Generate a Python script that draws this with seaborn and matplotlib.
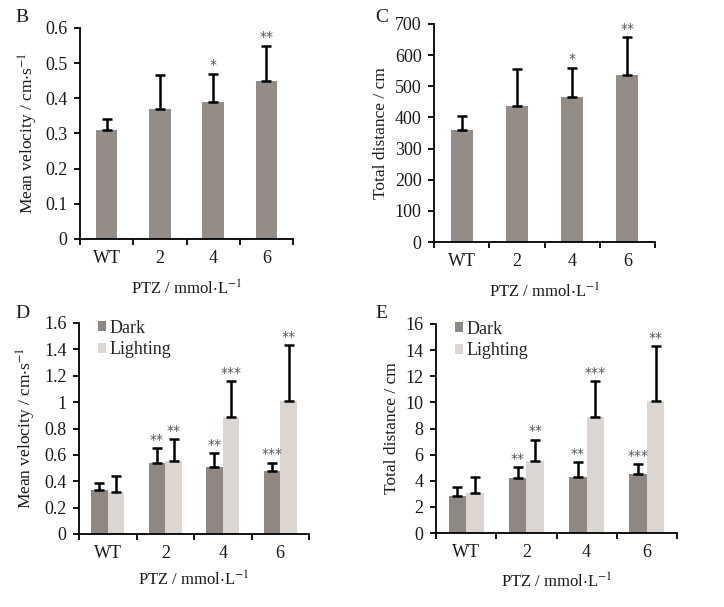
import numpy as np
import pandas as pd
import matplotlib
matplotlib.use("Agg")
import matplotlib.pyplot as plt
from matplotlib.ticker import FixedLocator, FuncFormatter, NullFormatter
import seaborn as sns

# ---------------- data ----------------
groups = ["WT", "2", "4", "6"]

# Panel B: mean velocity
vel_mean = [0.31, 0.37, 0.39, 0.45]
vel_err = [0.032, 0.095, 0.08, 0.10]
vel_sig = ["", "", "*", "**"]

# Panel C: total distance
dist_mean = [360, 437, 465, 537]
dist_err = [43, 118, 95, 121]
dist_sig = ["", "", "*", "**"]

# Panel D: mean velocity dark / lighting
conds = ["Dark", "Lighting"]
vel_dark = [0.33, 0.535, 0.505, 0.475]
vel_dark_err = [0.06, 0.115, 0.11, 0.065]
vel_dark_sig = ["", "**", "**", "***"]
vel_light = [0.32, 0.555, 0.89, 1.01]
vel_light_err = [0.12, 0.165, 0.27, 0.42]
vel_light_sig = ["", "**", "***", "**"]

# Panel E: total distance dark / lighting
dist_dark = [2.8, 4.2, 4.3, 4.55]
dist_dark_err = [0.7, 0.85, 1.15, 0.7]
dist_dark_sig = ["", "**", "**", "***"]
dist_light = [3.05, 5.5, 8.9, 10.1]
dist_light_err = [1.2, 1.65, 2.7, 4.2]
dist_light_sig = ["", "**", "***", "**"]

# ---------------- style ----------------
sns.set_style("white")
plt.rcParams["font.family"] = ["Liberation Serif", "DejaVu Serif"]
plt.rcParams["mathtext.fontset"] = "stix"

C_SINGLE = "#948c86"
C_DARK = "#8f8782"
C_LIGHT = "#dbd6d2"
TXT = "#1a1a1a"

fig = plt.figure(figsize=(7.24, 6.07), dpi=100)

def frac(l, r, t, b):
    W, H = 724, 607
    return [l / W, 1 - b / H, (r - l) / W, (b - t) / H]

axB = fig.add_axes(frac(80, 293, 28, 239))
axC = fig.add_axes(frac(434, 655, 24, 242))
axD = fig.add_axes(frac(79, 309, 323, 534))
axE = fig.add_axes(frac(436, 677, 324, 533))

def style_axes(ax, ylim, yticks, ylabel, xpad=9):
    ax.set_xlim(-0.5, 3.5)
    ax.set_ylim(*ylim)
    ax.set_yticks(yticks)
    ax.yaxis.set_major_formatter(FuncFormatter(lambda v, p: "%g" % v))
    for s in ["top", "right"]:
        ax.spines[s].set_visible(False)
    for s in ["left", "bottom"]:
        ax.spines[s].set_color("black")
        ax.spines[s].set_linewidth(1.3)
    ax.xaxis.set_minor_locator(FixedLocator([-0.5, 0.5, 1.5, 2.5, 3.5]))
    ax.xaxis.set_minor_formatter(NullFormatter())
    ax.tick_params(axis="x", which="major", length=0, pad=8, labelsize=13, labelcolor=TXT)
    ax.tick_params(axis="x", which="minor", length=4, width=1.3, direction="out", color="black", bottom=True)
    ax.tick_params(axis="y", which="major", length=4, width=1.3, direction="out", left=True,
                   labelsize=13, color="black", labelcolor=TXT, pad=5)
    ax.set_xlabel(r"PTZ / mmol$\cdot$L$^{-1}$", fontsize=12, labelpad=xpad, color=TXT)
    ax.set_ylabel(ylabel, fontsize=12.5, color=TXT, labelpad=4)

def add_err(ax, container, errs, sigs, offset):
    xs = [p.get_x() + p.get_width() / 2 for p in container.patches]
    hs = [p.get_height() for p in container.patches]
    ax.errorbar(xs, hs, yerr=[[0] * len(errs), errs], fmt="none", ecolor="black",
                elinewidth=1.8, capsize=3.5, capthick=1.8, zorder=3)
    for x, h, e, s in zip(xs, hs, errs, sigs):
        if s:
            ax.text(x, h + e + offset, s, ha="center", va="bottom", fontsize=10,
                    color="#555555", family="DejaVu Sans")

# Panel B
dfB = pd.DataFrame({"group": groups, "value": vel_mean})
sns.barplot(data=dfB, x="group", y="value", color=C_SINGLE, width=0.4, ax=axB,
            saturation=1, errorbar=None, linewidth=0)
add_err(axB, axB.containers[0], vel_err, vel_sig, 0.004)
style_axes(axB, (0, 0.6), np.arange(0, 0.61, 0.1), r"Mean velocity / cm$\cdot$s$^{-1}$")

# Panel C
dfC = pd.DataFrame({"group": groups, "value": dist_mean})
sns.barplot(data=dfC, x="group", y="value", color=C_SINGLE, width=0.4, ax=axC,
            saturation=1, errorbar=None, linewidth=0)
add_err(axC, axC.containers[0], dist_err, dist_sig, 5)
style_axes(axC, (0, 700), np.arange(0, 701, 100), "Total distance / cm")

# Panel D
dfD = pd.DataFrame({
    "group": groups * 2,
    "cond": [conds[0]] * 4 + [conds[1]] * 4,
    "value": vel_dark + vel_light,
})
sns.barplot(data=dfD, x="group", y="value", hue="cond", palette=[C_DARK, C_LIGHT],
            width=0.58, ax=axD, saturation=1, errorbar=None, gap=0, linewidth=0)
add_err(axD, axD.containers[0], vel_dark_err, vel_dark_sig, 0.01)
add_err(axD, axD.containers[1], vel_light_err, vel_light_sig, 0.01)
style_axes(axD, (0, 1.6), np.arange(0, 1.61, 0.2), r"Mean velocity / cm$\cdot$s$^{-1}$", xpad=6)

# Panel E
dfE = pd.DataFrame({
    "group": groups * 2,
    "cond": [conds[0]] * 4 + [conds[1]] * 4,
    "value": dist_dark + dist_light,
})
sns.barplot(data=dfE, x="group", y="value", hue="cond", palette=[C_DARK, C_LIGHT],
            width=0.58, ax=axE, saturation=1, errorbar=None, gap=0, linewidth=0)
add_err(axE, axE.containers[0], dist_dark_err, dist_dark_sig, 0.1)
add_err(axE, axE.containers[1], dist_light_err, dist_light_sig, 0.1)
style_axes(axE, (0, 16), np.arange(0, 16.1, 2), "Total distance / cm", xpad=8)

for ax in (axD, axE):
    h, l = ax.get_legend_handles_labels()
    ax.legend(h, l, loc="upper left", bbox_to_anchor=(0.05, 1.05), frameon=False,
              fontsize=13, handlelength=0.45, handleheight=0.45, handletextpad=0.2,
              labelspacing=0.25, borderaxespad=0)

# panel letters
for txt, x, y in [("B", 15, 18), ("C", 375, 18), ("D", 15, 313), ("E", 375, 313)]:
    fig.text(x / 724, 1 - y / 607, txt, fontsize=14, ha="left", va="center", color=TXT)

fig.savefig("out.png", dpi=100, facecolor="white")
